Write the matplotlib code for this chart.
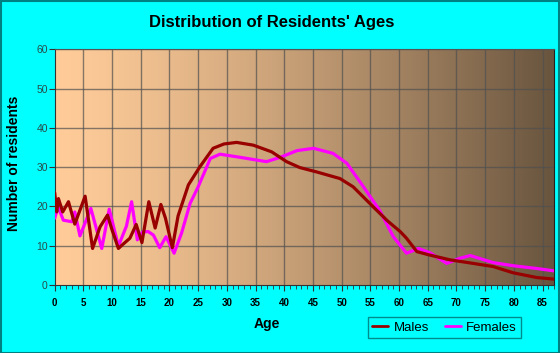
import numpy as np
import matplotlib
matplotlib.use("Agg")
import matplotlib.pyplot as plt
from matplotlib.patches import Rectangle

plt.rcParams['font.family'] = ['Liberation Sans', 'DejaVu Sans']

title = "Distribution of Residents' Ages"
x_label = "Age"
y_label = "Number of residents"
x_ticks = list(range(0, 90, 5))
y_ticks = [0, 10, 20, 30, 40, 50, 60]

male_age = [0, 0.35, 0.65, 1.4, 2.4, 3.5, 5.3, 6.6, 7.9, 9.2, 10, 11.1, 12, 13.1, 14.2,
            15.2, 16.4, 17.5, 18.5, 19.3, 20.5, 21.5, 23.3, 25.3, 27.6, 29.5, 31.7,
            34.6, 37.8, 40.4, 42.7, 45.6, 49.7, 52, 55.5, 58, 60.2, 61.3, 63.1, 65.4,
            68.9, 72.9, 76.4, 79.9, 84, 87]
male_val = [23.5, 18.6, 22, 18.6, 21.2, 15.5, 22.6, 9.3, 14.8, 17.8, 14, 9.3, 10.5, 11.9,
            15.4, 10.8, 21.2, 14.5, 20.5, 17, 9.5, 17.6, 25.5, 30.1, 34.8, 35.9, 36.3,
            35.6, 33.9, 31.4, 29.9, 28.8, 27.1, 25, 19.9, 16.3, 13.6, 11.9, 8.5, 7.6,
            6.4, 5.5, 4.7, 3.1, 1.9, 1.5]

female_age = [0, 0.6, 1.5, 3, 3.5, 4.4, 6.3, 8.2, 9.5, 11.1, 12.5, 13.4, 14.4, 15.3,
              16.3, 17.2, 18.3, 19.4, 20.8, 22.1, 23.6, 25, 26.5, 27.1, 28.8, 32.3,
              36.9, 39.3, 42.2, 45.1, 48.5, 50.9, 53.8, 56.7, 59, 61.3, 63.4, 65.4,
              68.3, 70.6, 72.4, 76.4, 79.9, 84, 87]
female_val = [17, 19.9, 16.5, 16.1, 18.6, 12.5, 19.5, 9.3, 19.3, 9.9, 15, 21.2, 11.5,
              13.5, 13.6, 12.7, 9.5, 12.3, 8.1, 13.2, 20.8, 25, 30.1, 32.2, 33.3, 32.5,
              31.4, 32.5, 34.2, 34.8, 33.5, 31, 25, 18.8, 12.3, 8.1, 9.3, 8.2, 5.5,
              6.8, 7.5, 5.7, 4.9, 4.2, 3.6]

W, H = 560, 353
fig = plt.figure(figsize=(W / 100, H / 100), dpi=100, facecolor='#00FFFF')
ax = fig.add_axes([54.7 / W, 1 - 285 / H, (554 - 54.7) / W, (285 - 49.3) / H])

xmax = 87
ax.set_xlim(0, xmax)
ax.set_ylim(0, 60)

# gradient background
t = np.linspace(0, 1, 256)
left = np.array([255, 204, 153]) / 255
right = np.array([104, 84, 62]) / 255
tt = t ** 1.3
grad = left[None, :] * (1 - tt[:, None]) + right[None, :] * tt[:, None]
ax.imshow(grad[None, :, :], extent=[0, xmax, 0, 60], aspect='auto', zorder=0)

for xv in x_ticks[1:]:
    ax.axvline(xv, color='#505050', lw=1.0, alpha=0.7, zorder=1)
for yv in y_ticks[1:]:
    ax.axhline(yv, color='#505050', lw=1.0, alpha=0.7, zorder=1)

ax.plot(female_age, female_val, color='#FF00FF', lw=2.3, solid_joinstyle='round',
        solid_capstyle='round', zorder=3, label='Females')
ax.plot(male_age, male_val, color='#990000', lw=2.3, solid_joinstyle='round',
        solid_capstyle='round', zorder=4, label='Males')

ax.set_xticks(x_ticks)
ax.set_xticks(range(0, 88), minor=True)
ax.set_yticks(y_ticks)
ax.tick_params(axis='x', which='major', length=4, width=0.8, colors='#333333',
               labelsize=7, labelcolor='black', pad=5)
ax.tick_params(axis='x', which='minor', length=3, width=0.6, colors='#333333')
ax.tick_params(axis='y', which='major', length=4, width=0.8, colors='#333333',
               labelsize=7.5, labelcolor='#2a4a4a', pad=1)
for lbl in ax.get_xticklabels():
    lbl.set_fontweight('bold')

ax.spines['left'].set_color('#333333')
ax.spines['bottom'].set_color('#333333')
ax.spines['right'].set_color('#222222')
ax.spines['top'].set_color('#555555')

fig.text(272 / W, 1 - 23 / H, title, ha='center', va='center', fontsize=12,
         fontweight='bold', color='black')
fig.text(267 / W, 1 - 324 / H, x_label, ha='center', va='center', fontsize=10,
         fontweight='bold', color='black')
fig.text(14 / W, 1 - 163 / H, y_label, ha='center', va='center', fontsize=10,
         fontweight='bold', color='black', rotation=90)

handles, labels = ax.get_legend_handles_labels()
leg = fig.legend([handles[1], handles[0]], [labels[1], labels[0]], ncol=2,
                 loc='center', bbox_to_anchor=(444.5 / W, 1 - 327.5 / H),
                 frameon=True, fancybox=False, facecolor='#00FFFF',
                 edgecolor='#007070', fontsize=9.5, handlelength=1.2,
                 handletextpad=0.4, columnspacing=1.2, borderpad=0.35)
leg.get_frame().set_linewidth(1.0)
for l in leg.get_lines():
    l.set_linewidth(2)

fig.patches.append(Rectangle((0.001, 0.001), 0.997, 0.996, transform=fig.transFigure,
                             fill=False, edgecolor='#008080', lw=1.5))

fig.savefig('out.png', dpi=100, facecolor=fig.get_facecolor())
